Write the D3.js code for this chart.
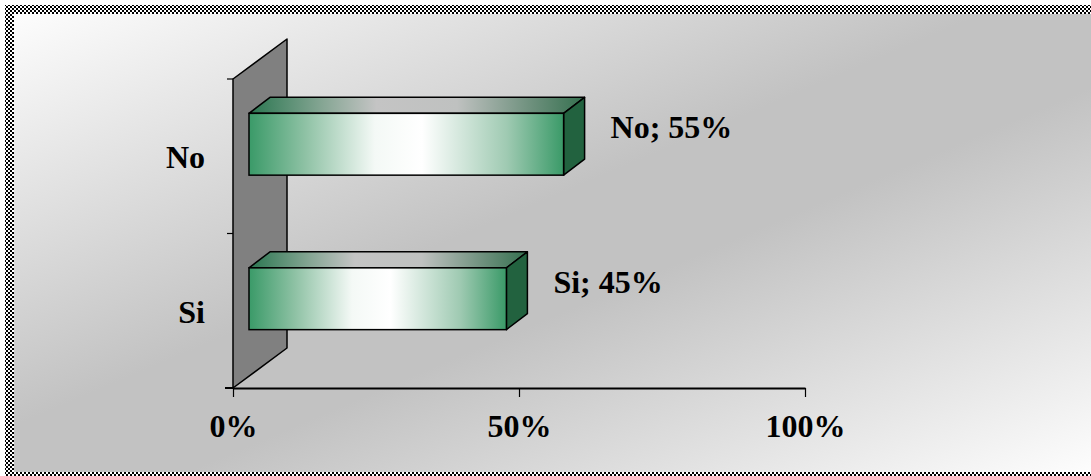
<!DOCTYPE html>
<html>
<head>
<meta charset="utf-8">
<script src="https://cdn.jsdelivr.net/npm/d3@7"></script>
<style>
  html, body { margin: 0; padding: 0; background: #fff; }
  svg { display: block; }
</style>
</head>
<body>
<div id="chart"></div>
<script>
// data
const categories = ["No", "Si"];
const values = [0.55, 0.45];
const xTicks = [0, 0.5, 1];

const W = 1091, H = 476;
const labelFont = "bold 32px 'Liberation Serif', 'Times New Roman', serif";

const svg = d3.select("#chart").append("svg")
  .attr("width", W)
  .attr("height", H);

const defs = svg.append("defs");

// checkered frame
const pat = defs.append("pattern")
  .attr("id", "checker")
  .attr("width", 4).attr("height", 4)
  .attr("patternUnits", "userSpaceOnUse");
pat.append("rect").attr("width", 4).attr("height", 4).attr("fill", "#fff");
pat.append("rect").attr("width", 2).attr("height", 2).attr("fill", "#000");
pat.append("rect").attr("x", 2).attr("y", 2).attr("width", 2).attr("height", 2).attr("fill", "#000");

// background gradient
const bg = defs.append("linearGradient")
  .attr("id", "bg")
  .attr("x1", 0).attr("y1", 0).attr("x2", 1).attr("y2", 1);
bg.append("stop").attr("offset", "0%").attr("stop-color", "#fdfdfd");
bg.append("stop").attr("offset", "45%").attr("stop-color", "#c2c2c2");
bg.append("stop").attr("offset", "58%").attr("stop-color", "#c2c2c2");
bg.append("stop").attr("offset", "100%").attr("stop-color", "#fdfdfd");

// bar front gradient
const frontGrad = defs.append("linearGradient").attr("id", "front");
[["0%", "#3a9a68"], ["18%", "#8fc2a5"], ["40%", "#f4f9f6"], ["55%", "#ffffff"], ["82%", "#9fcab2"], ["100%", "#3a9a68"]]
  .forEach(s => frontGrad.append("stop").attr("offset", s[0]).attr("stop-color", s[1]));

// bar top gradient
const topGrad = defs.append("linearGradient").attr("id", "topface");
[["0%", "#2a7650"], ["22%", "#86a694"], ["38%", "#c4c4c4"], ["62%", "#bfc1c0"], ["85%", "#6a8e7a"], ["100%", "#35704f"]]
  .forEach(s => topGrad.append("stop").attr("offset", s[0]).attr("stop-color", s[1]));

svg.append("rect")
  .attr("x", 5).attr("y", 5)
  .attr("width", W).attr("height", H)
  .attr("fill", "url(#checker)");

svg.append("rect")
  .attr("x", 14).attr("y", 14)
  .attr("width", W - 14).attr("height", 472 - 14)
  .attr("fill", "url(#bg)");

// scales
const x = d3.scaleLinear().domain([0, 1]).range([233, 805]);
const y = d3.scaleBand().domain(categories).range([79, 388]);

const wallDx = 54, wallDy = -40;
const barOffX = 16, barOffY = -12;
const barDx = 21, barDy = -16;
const barH = y.bandwidth() * 0.4;

const g = svg.append("g");

// back wall
const y0 = y.range()[0], y1 = y.range()[1];
g.append("path")
  .attr("d", `M${x(0)},${y1}L${x(0)},${y0}L${x(0) + wallDx},${y0 + wallDy}L${x(0) + wallDx},${y1 + wallDy}Z`)
  .attr("fill", "#808080")
  .attr("stroke", "#000")
  .attr("stroke-width", 1.5)
  .attr("stroke-linejoin", "round");

// y ticks at band edges
const yEdges = categories.map(c => y(c)).concat([y1]);
g.selectAll(".ytick")
  .data(yEdges)
  .enter().append("line")
  .attr("class", "ytick")
  .attr("x1", x(0) - 6).attr("x2", x(0))
  .attr("y1", d => d).attr("y2", d => d)
  .attr("stroke", "#000")
  .attr("stroke-width", 1.2);

// x axis
const xAxis = g.append("g")
  .attr("transform", "translate(0," + y1 + ")")
  .call(d3.axisBottom(x)
    .tickValues(xTicks)
    .tickFormat(d3.format(".0%"))
    .tickSize(9)
    .tickSizeOuter(0)
    .tickPadding(17));

xAxis.select(".domain")
  .attr("stroke", "#000")
  .attr("stroke-width", 2);
xAxis.selectAll(".tick line").attr("stroke", "#000").attr("stroke-width", 1.2);
xAxis.selectAll(".tick text")
  .attr("fill", "#000")
  .style("font", labelFont);

// extend axis line a bit left
g.append("line")
  .attr("x1", x(0) - 8).attr("x2", x(0))
  .attr("y1", y1).attr("y2", y1)
  .attr("stroke", "#000").attr("stroke-width", 2);

// category labels
g.selectAll(".cat")
  .data(categories)
  .enter().append("text")
  .attr("class", "cat")
  .attr("x", 205)
  .attr("y", d => y(d) + y.bandwidth() / 2 + 12)
  .attr("text-anchor", "end")
  .style("font", labelFont)
  .text(d => d);

// bars
const bars = g.selectAll(".bar")
  .data(categories.map((c, i) => ({cat: c, val: values[i]})))
  .enter().append("g")
  .attr("class", "bar");

const fx0 = d => x(0) + barOffX;
const fx1 = d => x(d.val) + barOffX;
const fy0 = d => y(d.cat) + y.bandwidth() / 2 + barOffY - barH / 2;
const fy1 = d => fy0(d) + barH;

// top face
bars.append("path")
  .attr("d", d => `M${fx0(d)},${fy0(d)}L${fx0(d) + barDx},${fy0(d) + barDy}L${fx1(d) + barDx},${fy0(d) + barDy}L${fx1(d)},${fy0(d)}Z`)
  .attr("fill", "url(#topface)")
  .attr("stroke", "#000").attr("stroke-width", 1.5).attr("stroke-linejoin", "round");

// side face
bars.append("path")
  .attr("d", d => `M${fx1(d)},${fy0(d)}L${fx1(d) + barDx},${fy0(d) + barDy}L${fx1(d) + barDx},${fy1(d) + barDy}L${fx1(d)},${fy1(d)}Z`)
  .attr("fill", "#22623f")
  .attr("stroke", "#000").attr("stroke-width", 1.5).attr("stroke-linejoin", "round");

// front face
bars.append("rect")
  .attr("x", fx0)
  .attr("y", fy0)
  .attr("width", d => fx1(d) - fx0(d))
  .attr("height", barH)
  .attr("fill", "url(#front)")
  .attr("stroke", "#000").attr("stroke-width", 1.5);

// value labels
bars.append("text")
  .attr("x", d => fx1(d) + 47)
  .attr("y", d => fy0(d) + barH / 2 - 6)
  .style("font", labelFont)
  .text(d => d.cat + "; " + Math.round(d.val * 100) + "%");
</script>
</body>
</html>
